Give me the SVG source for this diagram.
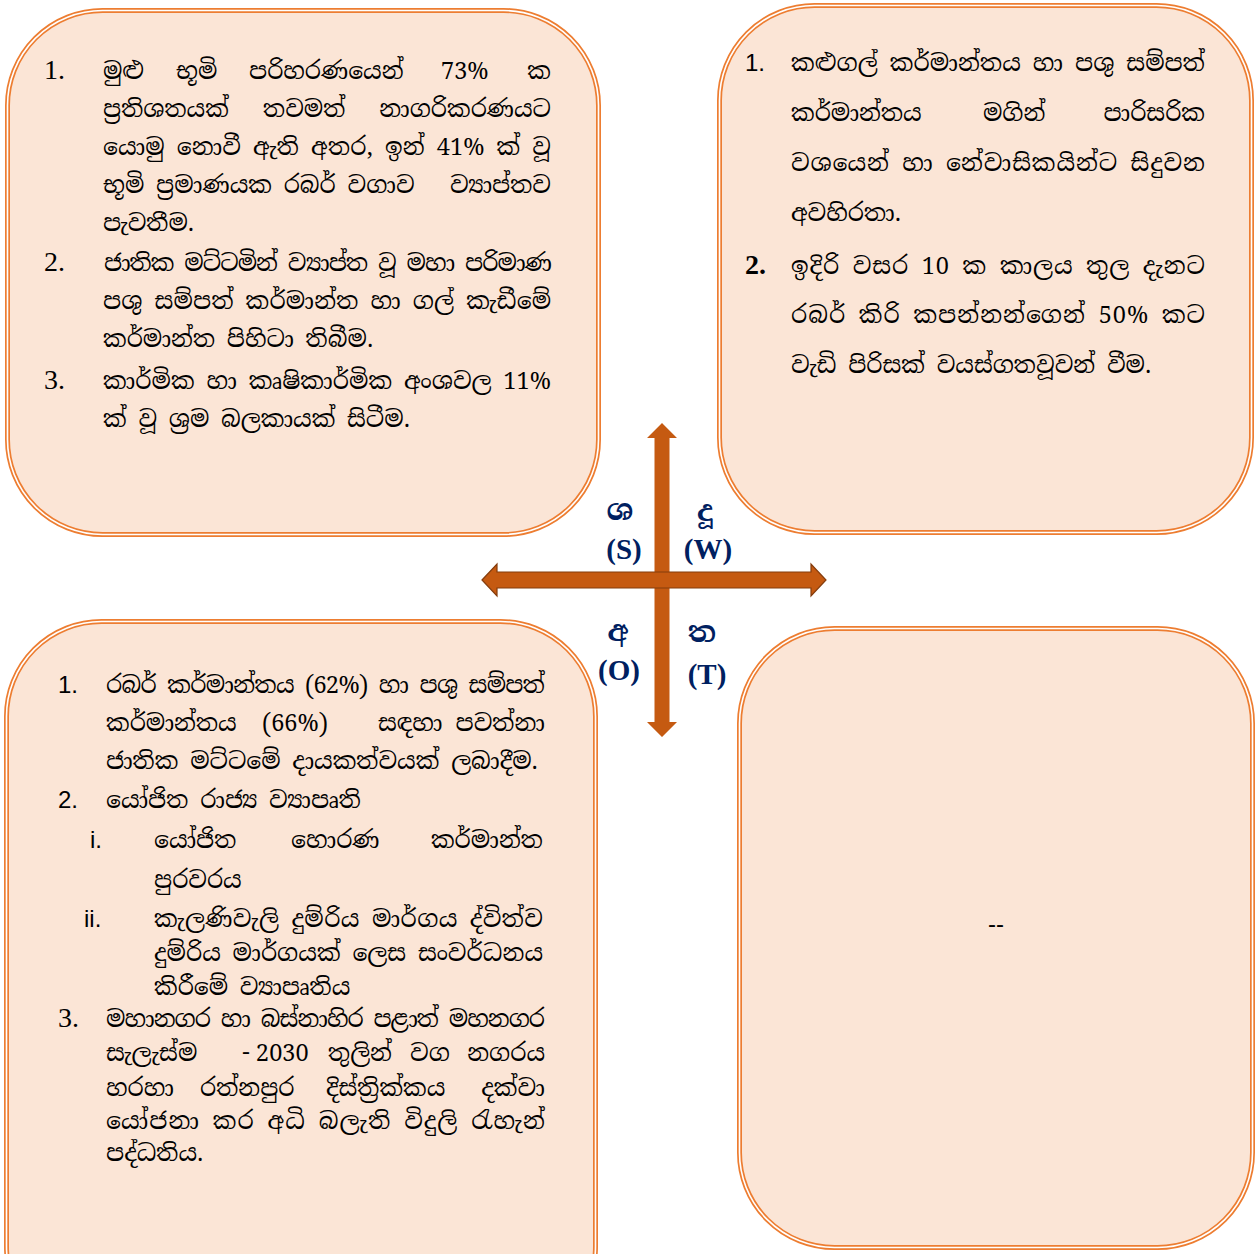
<svg xmlns="http://www.w3.org/2000/svg" width="1257" height="1254" viewBox="0 0 1257 1254">
<style>
.box{fill:#FBE5D6;stroke:#ED7D31;stroke-width:5}
.gap{fill:none;stroke:#FFFFFF;stroke-width:1.6}
.si{font-family:"Iskoola Pota","Noto Serif Sinhala","Noto Sans Sinhala","Liberation Serif",serif;font-size:23.5px;fill:#000}
.num{font-family:"Liberation Serif",serif;font-size:28px;fill:#000}
.nums{font-family:"Liberation Sans",sans-serif;font-size:24px;fill:#000}
.dir{font-family:"Liberation Serif","Noto Serif Sinhala","Noto Sans Sinhala",serif;font-size:29px;font-weight:bold;fill:#002060;text-anchor:middle}
.arrow{fill:#C55A11}
</style>
<rect width="1257" height="1254" fill="#FFFFFF"/>

<g id="node-top-left">
<rect class="box" x="7.5" y="10.5" width="591" height="524" rx="95" ry="95"/>
<rect class="gap" x="7.5" y="10.5" width="591" height="524" rx="95" ry="95"/>
<text class="num" x="44" y="79">1.</text>
<text class="si" y="79"><tspan x="103">මුළු</tspan><tspan x="176">භූමි</tspan><tspan x="249">පරිහරණයෙන්</tspan><tspan x="441">73%</tspan><tspan x="551" text-anchor="end">ක</tspan></text>
<text class="si" y="117"><tspan x="103">ප්‍රතිශතයක්</tspan><tspan x="263">තවමත්</tspan><tspan x="551" text-anchor="end">නාගරිකරණයට</tspan></text>
<text class="si" x="103" y="155" textLength="448" lengthAdjust="spacing">යොමු නොවී ඇති අතර, ඉන් 41% ක් වූ</text>
<text class="si" y="193"><tspan x="103">භූමි ප්‍රමාණයක රබර් වගාව</tspan><tspan x="551" text-anchor="end">ව්‍යාප්තව</tspan></text>
<text class="si" x="103" y="231">පැවතීම.</text>
<text class="num" x="44" y="271">2.</text>
<text class="si" x="103" y="271" textLength="448" lengthAdjust="spacing">ජාතික මට්ටමින් ව්‍යාප්ත වූ මහා පරිමාණ</text>
<text class="si" x="103" y="309" textLength="448" lengthAdjust="spacing">පශු සම්පත් කර්මාන්ත හා ගල් කැඩීමේ</text>
<text class="si" x="103" y="347">කර්මාන්ත පිහිටා තිබීම.</text>
<text class="num" x="44" y="389">3.</text>
<text class="si" x="103" y="389" textLength="448" lengthAdjust="spacing">කාර්මික හා කෘෂිකාර්මික අංශවල 11%</text>
<text class="si" x="103" y="427">ක් වූ ශ්‍රම බලකායක් සිටීම.</text>
</g>

<g id="node-top-right">
<rect class="box" x="719.5" y="5.5" width="532" height="527" rx="95" ry="95"/>
<rect class="gap" x="719.5" y="5.5" width="532" height="527" rx="95" ry="95"/>
<text class="nums" x="745" y="71">1.</text>
<text class="si" x="791" y="71" textLength="414" lengthAdjust="spacing">කළුගල් කර්මාන්තය හා පශු සම්පත්</text>
<text class="si" y="121"><tspan x="791">කර්මාන්තය</tspan><tspan x="983">මගින්</tspan><tspan x="1205" text-anchor="end">පාරිසරික</tspan></text>
<text class="si" x="791" y="171" textLength="414" lengthAdjust="spacing">වශයෙන් හා නේවාසිකයින්ට සිදුවන</text>
<text class="si" x="791" y="221">අවහිරතා.</text>
<text class="num" x="745" y="274" font-weight="bold">2.</text>
<text class="si" x="791" y="274" textLength="414" lengthAdjust="spacing">ඉදිරි වසර 10 ක කාලය තුල දැනට</text>
<text class="si" x="791" y="323" textLength="414" lengthAdjust="spacing">රබර් කිරි කපන්නන්ගෙන් 50% කට</text>
<text class="si" x="791" y="373">වැඩි පිරිසක් වයස්ගතවූවන් වීම.</text>
</g>

<g id="node-bottom-left">
<rect class="box" x="6.5" y="621.5" width="589" height="720" rx="95" ry="95"/>
<rect class="gap" x="6.5" y="621.5" width="589" height="720" rx="95" ry="95"/>
<text class="nums" x="58" y="693">1.</text>
<text class="si" x="106" y="693" textLength="439" lengthAdjust="spacing">රබර් කර්මාන්තය (62%) හා පශු සම්පත්</text>
<text class="si" y="731"><tspan x="106">කර්මාන්තය</tspan><tspan x="262">(66%)</tspan><tspan x="378">සඳහා</tspan><tspan x="545" text-anchor="end">පවත්නා</tspan></text>
<text class="si" x="106" y="769">ජාතික මට්ටමේ දායකත්වයක් ලබාදීම.</text>
<text class="nums" x="58" y="808">2.</text>
<text class="si" x="106" y="808">යෝජිත රාජ්‍ය ව්‍යාපෘති</text>
<text class="nums" x="90" y="848">i.</text>
<text class="si" y="848"><tspan x="154">යෝජිත</tspan><tspan x="291">හොරණ</tspan><tspan x="543" text-anchor="end">කර්මාන්ත</tspan></text>
<text class="si" x="154" y="888">පුරවරය</text>
<text class="nums" x="84" y="927">ii.</text>
<text class="si" x="154" y="927" textLength="389" lengthAdjust="spacing">කැලණිවැලි දුම්රිය මාර්ගය ද්විත්ව</text>
<text class="si" x="154" y="961" textLength="389" lengthAdjust="spacing">දුම්රිය මාර්ගයක් ලෙස සංවර්ධනය</text>
<text class="si" x="154" y="995">කිරීමේ ව්‍යාපෘතිය</text>
<text class="num" x="58" y="1027">3.</text>
<text class="si" x="106" y="1027" textLength="439" lengthAdjust="spacing">මහානගර හා බස්නාහිර පළාත් මහනගර</text>
<text class="si" y="1061"><tspan x="106">සැලැස්ම</tspan><tspan x="242">-</tspan><tspan x="256">2030</tspan><tspan x="328">තුලින්</tspan><tspan x="410">වග</tspan><tspan x="545" text-anchor="end">නගරය</tspan></text>
<text class="si" y="1096"><tspan x="106">හරහා</tspan><tspan x="200">රත්නපුර</tspan><tspan x="326">දිස්ත්‍රික්කය</tspan><tspan x="545" text-anchor="end">දක්වා</tspan></text>
<text class="si" x="106" y="1129" textLength="439" lengthAdjust="spacing">යෝජනා කර අධි බලැති විදුලි රැහැන්</text>
<text class="si" x="106" y="1161">පද්ධතිය.</text>
</g>

<g id="node-bottom-right">
<rect class="box" x="739.5" y="628.5" width="513" height="619" rx="95" ry="95"/>
<rect class="gap" x="739.5" y="628.5" width="513" height="619" rx="95" ry="95"/>
<text class="nums" x="996" y="932" text-anchor="middle">--</text>
</g>

<g id="connectors">
<polygon class="arrow" points="662,423 677,438 669.5,438 669.5,722 677,722 662,737 647,722 654.5,722 654.5,438 647,438"/>
<polygon class="arrow" stroke="#843C0C" stroke-width="1.2" points="482,580 497,564 497,572 811,572 811,564 826,580 811,596 811,588 497,588 497,596"/>
</g>

<g id="direction-labels">
<text class="dir" x="620" y="520">ශ</text>
<text class="dir" x="624" y="559">(S)</text>
<text class="dir" x="705" y="521">දූ</text>
<text class="dir" x="708" y="559">(W)</text>
<text class="dir" x="618" y="641">අ</text>
<text class="dir" x="619" y="680">(O)</text>
<text class="dir" x="702" y="642">ත</text>
<text class="dir" x="707" y="684">(T)</text>
</g>
</svg>
